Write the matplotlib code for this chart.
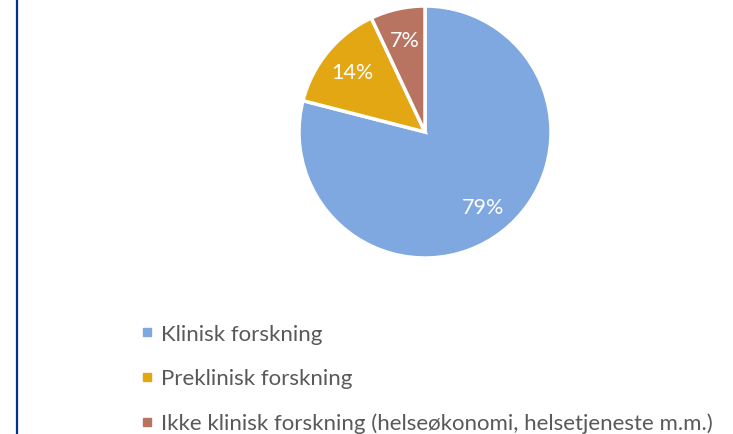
import matplotlib
matplotlib.use("Agg")
import matplotlib.pyplot as plt
from matplotlib.lines import Line2D

plt.rcParams["font.family"] = ["Lato", "DejaVu Sans"]

categories = [
    "Klinisk forskning",
    "Preklinisk forskning",
    "Ikke klinisk forskning (helseøkonomi, helsetjeneste m.m.)",
]
shares = [79, 14, 7]
colors = ["#7FA8E0", "#E2A713", "#B87361"]

W, H = 733, 435
fig = plt.figure(figsize=(W / 100, H / 100), dpi=100)

# pie axes: centre (425, 133) px, radius 126 px
r = 126
ax = fig.add_axes([(425 - r) / W, (H - 133 - r) / H, 2 * r / W, 2 * r / H])
wedges, texts, autotexts = ax.pie(
    shares,
    colors=colors,
    startangle=90,
    counterclock=False,
    autopct="%d%%",
    pctdistance=0.75,
    radius=1.0,
    wedgeprops=dict(edgecolor="white", linewidth=2.5),
    textprops=dict(color="white", fontsize=15.5),
)
ax.set_xlim(-1, 1)
ax.set_ylim(-1, 1)
ax.set_aspect("auto")
ax.axis("off")

handles = [
    Line2D([0], [0], marker="s", linestyle="none", markersize=5.5,
           markerfacecolor=c, markeredgecolor=c)
    for c in colors
]
fig.legend(
    handles, categories,
    loc="upper left",
    bbox_to_anchor=(131 / W, 1 - 316 / H),
    frameon=False,
    fontsize=16,
    labelcolor="#595959",
    handlelength=0.6,
    handletextpad=0.35,
    labelspacing=1.1,
    borderaxespad=0,
)

# blue border line on the left
fig.add_artist(Line2D([17 / W, 17 / W], [0, 1], color="#00338D", linewidth=1.6,
                      transform=fig.transFigure))

fig.savefig("out.png", dpi=100)
